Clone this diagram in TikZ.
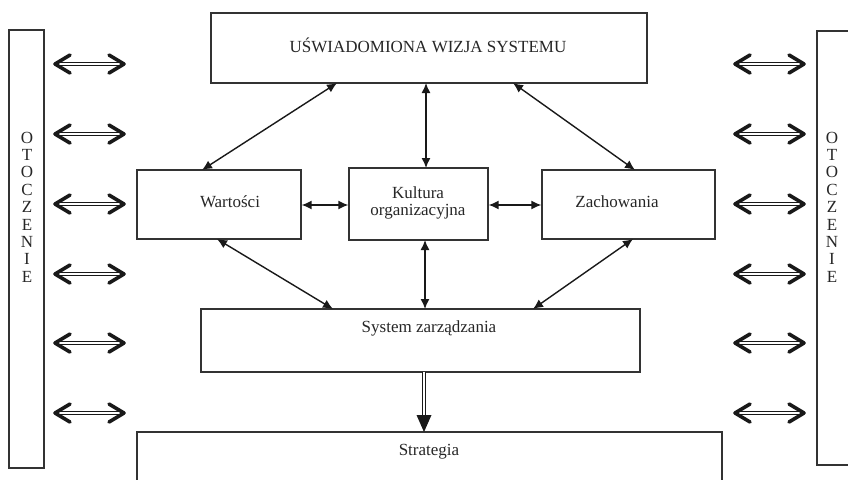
\documentclass[tikz,border=0pt]{standalone}
\usepackage{fontspec}
\setmainfont{Liberation Serif}
\usetikzlibrary{arrows.meta}
\begin{document}
\begin{tikzpicture}[x=1pt,y=-1pt,
  every node/.style={font=\fontsize{17}{17.4}\selectfont, text=black!85},
  box/.style={draw=black!80, line width=1.3pt, rectangle, inner sep=0pt},
  txt/.style={inner sep=0pt},
  link/.style={line width=1.4pt, draw=black!90, {Latex[length=10pt,width=9pt]}-{Latex[length=10pt,width=9pt]}},
  shaft/.style={double=white, double distance=2pt, line width=1.3pt, draw=black!90, shorten <=3pt, shorten >=3pt},
  barb/.style={line width=3.6pt, line cap=round, line join=round, draw=black!90},
  down/.style={double=white, double distance=2.2pt, line width=1.1pt, draw=black!90}
]
\useasboundingbox (0,0) rectangle (848,479);
\clip (0,0) rectangle (848,479);

% boxes
\node[box, minimum width=436, minimum height=70] (vision) at (429,48) {};
\node[txt] (visionT) at (428,45) {UŚWIADOMIONA WIZJA SYSTEMU};
\node[box, minimum width=164, minimum height=69] (values) at (219,204.5) {};
\node[txt] (valuesT) at (230,202) {Wartości};
\node[box, minimum width=139, minimum height=72] (culture) at (418.5,204) {};
\node[txt, align=center] (cultureT) at (418,203) {Kultura\\organizacyjna};
\node[box, minimum width=173, minimum height=69] (behav) at (628.5,204.5) {};
\node[txt] (behavT) at (617,202) {Zachowania};
\node[box, minimum width=439, minimum height=63] (mgmt) at (420.5,340.5) {};
\node[txt] (mgmtT) at (429,328) {System zarządzania};
\node[box, minimum width=585, minimum height=80] (strat) at (429.5,472) {};
\node[txt] (stratT) at (429,452) {Strategia};
\node[box, minimum width=35, minimum height=438] (envL) at (26.5,249) {};
\node[txt, align=center] (envLT) at (27,207) {O\\T\\O\\C\\Z\\E\\N\\I\\E};
\node[box, minimum width=60, minimum height=434] (envR) at (847,248) {};
\node[txt, align=center] (envRT) at (832,207) {O\\T\\O\\C\\Z\\E\\N\\I\\E};

% inner links
\coordinate (v1) at (337,83); \coordinate (w1) at (202,170);
\coordinate (v2) at (426,83); \coordinate (k1) at (426,168);
\coordinate (v3) at (513,83); \coordinate (z1) at (635,170);
\draw[link] (v1) -- (w1);
\draw[link] (v2) -- (k1);
\draw[link] (v3) -- (z1);
\draw[link] (values.east |- 0,205) -- (culture.west |- 0,205);
\draw[link] (culture.east |- 0,205) -- (behav.west |- 0,205);
\coordinate (w2) at (217,239); \coordinate (s1) at (333,309);
\coordinate (k2) at (425,240); \coordinate (s2) at (425,309);
\coordinate (z2) at (633,239); \coordinate (s3) at (533,309);
\draw[link] (w2) -- (s1);
\draw[link] (k2) -- (s2);
\draw[link] (z2) -- (s3);

% management -> strategy
\coordinate (m0) at (424,372);
\coordinate (m1) at (424,416);
\coordinate (st) at (424,432);
\draw[down] (m0) -- (m1);
\fill[black!90] (416.5,415) -- (431.5,415) -- (st) -- cycle;

% environment double arrows
\foreach \y [count=\i] in {64,134,204,274,343,413}{
  \coordinate (la\i) at (55,\y); \coordinate (lb\i) at (124,\y);
  \coordinate (ra\i) at (735,\y); \coordinate (rb\i) at (804,\y);
  \draw[shaft] (la\i) -- (lb\i);
  \draw[shaft] (ra\i) -- (rb\i);
  \draw[barb] ([shift={(15,-9)}]la\i) -- (la\i) -- ([shift={(15,9)}]la\i);
  \draw[barb] ([shift={(-15,-9)}]lb\i) -- (lb\i) -- ([shift={(-15,9)}]lb\i);
  \draw[barb] ([shift={(15,-9)}]ra\i) -- (ra\i) -- ([shift={(15,9)}]ra\i);
  \draw[barb] ([shift={(-15,-9)}]rb\i) -- (rb\i) -- ([shift={(-15,9)}]rb\i);
}
\end{tikzpicture}
\end{document}
